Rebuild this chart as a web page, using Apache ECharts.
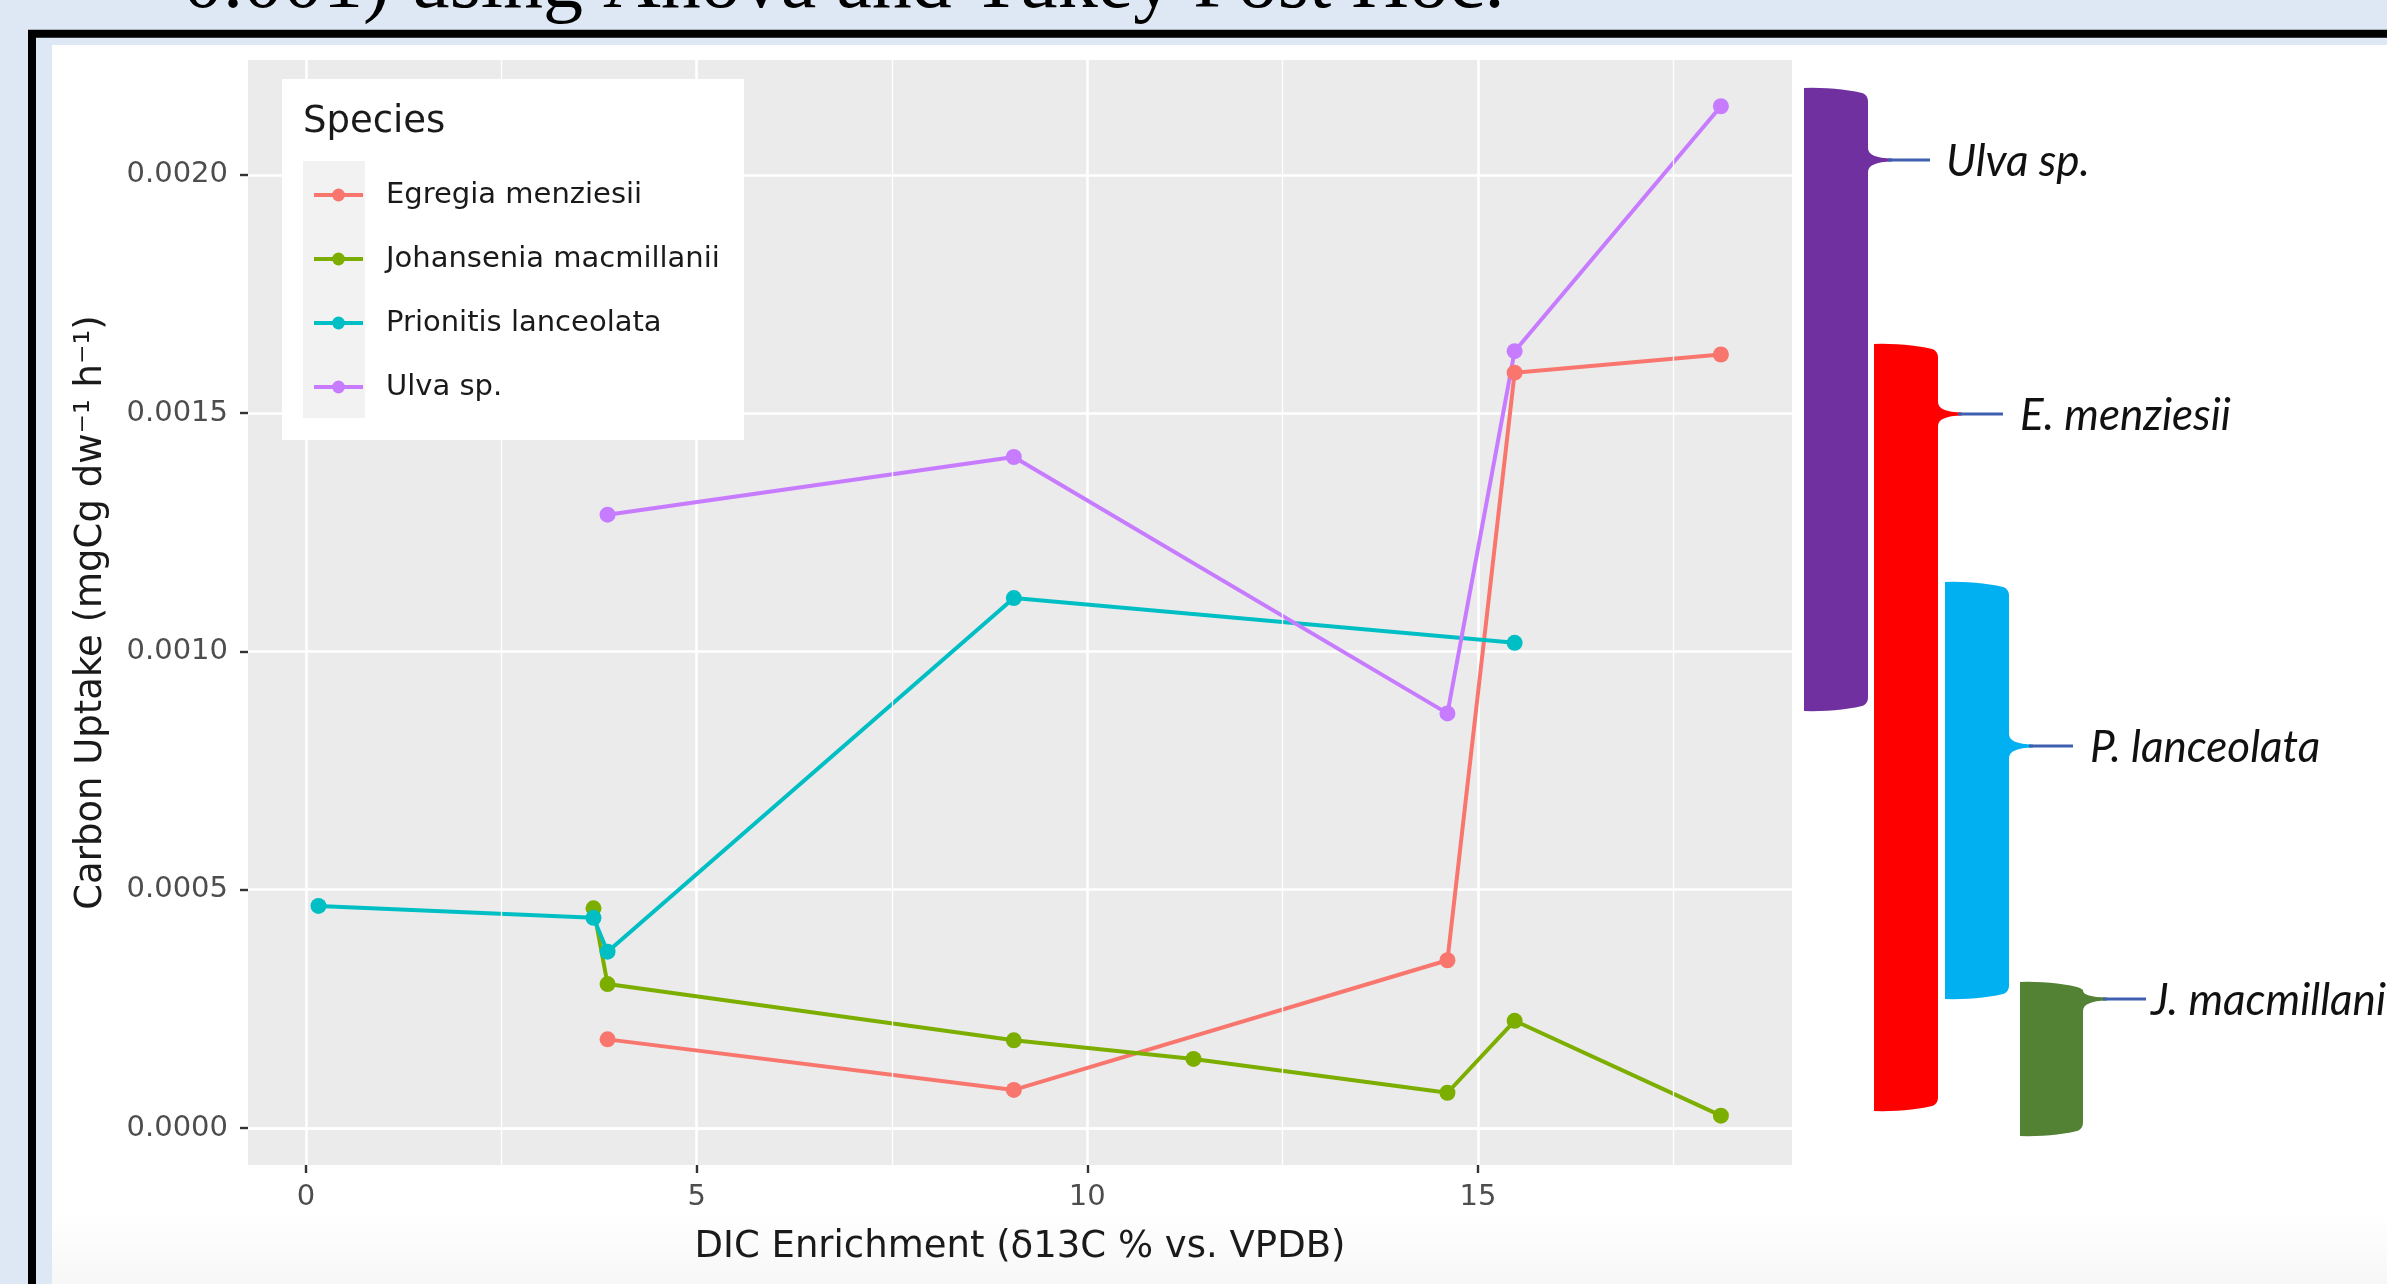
<!DOCTYPE html>
<html lang="en" style="height: 100%">
<head>
	<meta charset="utf-8">
	<title>Carbon uptake vs DIC enrichment</title>
</head>
<body style="height: 100%; margin: 0; background: #dde8f4">
<div id="container" style="width: 2387px; height: 1284px"></div>

<script src="https://cdn.jsdelivr.net/npm/echarts@6/dist/echarts.min.js"></script>
<script type="text/javascript">
	// values (x = DIC enrichment, y = carbon uptake)
	var egregiaX = [3.86, 9.06, 14.61, 15.47, 18.11];
	var egregiaY = [0.000186, 0.000080, 0.000352, 0.001585, 0.001623];
	var johanseniaX = [3.68, 3.86, 9.06, 11.36, 14.61, 15.47, 18.11];
	var johanseniaY = [0.000461, 0.000302, 0.000184, 0.000145, 0.000074, 0.000225, 0.000026];
	var prionitisX = [0.16, 3.68, 3.86, 9.06, 15.47];
	var prionitisY = [0.000466, 0.000441, 0.000370, 0.001112, 0.001018];
	var ulvaX = [3.86, 9.06, 14.61, 15.47, 18.11];
	var ulvaY = [0.001287, 0.001408, 0.000870, 0.001630, 0.002144];

	var speciesNames = ['Egregia menziesii', 'Johansenia macmillanii', 'Prionitis lanceolata', 'Ulva sp.'];
	var speciesColors = ['#F8766D', '#7CAE00', '#00BFC4', '#C77CFF'];

	var xTicks = [0, 5, 10, 15];
	var yTicks = [0, 0.0005, 0.001, 0.0015, 0.002];
	var xMinor = [2.5, 7.5, 12.5, 17.5];
	var yMinor = [0.00025, 0.00075, 0.00125, 0.00175];

	var groupLabels = ['Ulva sp.', 'E. menziesii', 'P. lanceolata', 'J. macmillanii'];
	var groupColors = ['#7030A0', '#FF0000', '#00B0F0', '#548235'];

	// layout of the hand-drawn brackets on the right (pixels)
	var brLeft = [1804, 1874, 1945, 2020];
	var brRight = [1868, 1938, 2009, 2083];
	var brTop = [88, 344, 582, 982];
	var brBottom = [711, 1111, 999, 1136];
	var brMid = [160, 414, 746, 999];
	var brLineEnd = [1930, 2003, 2073, 2146];
	var brLabelX = [1946, 2020, 2090, 2151];

	var font = '"DejaVu Sans", sans-serif';

	function pairs(xs, ys) {
		return xs.map(function (x, i) { return [x, ys[i]]; });
	}

	// quadratic curve sampled into polygon points
	function quad(pts, p0, c, p1) {
		for (var k = 1; k <= 8; k++) {
			var t = k / 8, u = 1 - t;
			pts.push([u * u * p0[0] + 2 * u * t * c[0] + t * t * p1[0],
				u * u * p0[1] + 2 * u * t * c[1] + t * t * p1[1]]);
		}
	}

	function bracketPoints(i) {
		var x0 = brLeft[i], x1 = brRight[i], yT = brTop[i], yB = brBottom[i], ym = brMid[i];
		var w = x1 - x0;
		var ct = Math.min(14, (ym - yT) / 2);
		var f = Math.min(12, ym - yT - ct);
		var pts = [[x0, yT]];
		quad(pts, [x0, yT], [x0 + w * 0.5, yT - 1], [x1 - 6, yT + Math.min(5, ct)]);
		quad(pts, [x1 - 6, yT + Math.min(5, ct)], [x1, yT + Math.min(7, ct)], [x1, yT + ct]);
		pts.push([x1, ym - f]);
		quad(pts, [x1, ym - f], [x1, ym - 2], [x1 + 24, ym - 1.5]);
		pts.push([x1 + 24, ym + 1.5]);
		quad(pts, [x1 + 24, ym + 1.5], [x1, ym + 2], [x1, ym + 12]);
		pts.push([x1, yB - 14]);
		quad(pts, [x1, yB - 14], [x1, yB - 7], [x1 - 6, yB - 5]);
		quad(pts, [x1 - 6, yB - 5], [x0 + w * 0.5, yB + 1], [x0, yB]);
		return pts;
	}

	var graphics = [
		{
			type: 'text', x: 183, y: -14, z: -5,
			style: { text: '0.001) using Anova and Tukey Post Hoc.', font: '80px "Liberation Serif"', fill: '#000',
				textVerticalAlign: 'middle' }
		},
		{
			type: 'text', x: 2358, y: -21, z: -5,
			style: { text: '1', font: '80px "Liberation Serif"', fill: '#000', textVerticalAlign: 'middle' }
		},
		{
			type: 'rect', z: -4, silent: true,
			shape: { x: 32, y: 33.7, width: 3000, height: 3000 },
			style: { fill: 'none', stroke: '#000', lineWidth: 8 }
		},
		{
			type: 'rect', z: -3, silent: true,
			shape: { x: 52, y: 45, width: 2400, height: 1300 },
			style: {
				fill: new echarts.graphic.LinearGradient(0, 0, 0, 1, [
					{ offset: 0, color: '#ffffff' },
					{ offset: 0.9, color: '#ffffff' },
					{ offset: 1, color: '#f0f0f0' }
				])
			}
		},
		// legend box, key background and title
		{
			type: 'rect', z: 3, silent: true,
			shape: { x: 282, y: 79, width: 462, height: 361 },
			style: { fill: '#ffffff' }
		},
		{
			type: 'rect', z: 4, silent: true,
			shape: { x: 303, y: 161, width: 62, height: 257 },
			style: { fill: '#f2f2f2' }
		},
		{
			type: 'text', x: 303, y: 122, z: 5,
			style: { text: 'Species', font: '37px ' + font, fill: '#1a1a1a', textVerticalAlign: 'middle' }
		}
	];

	groupLabels.forEach(function (label, i) {
		graphics.push({
			type: 'polygon', z: 2, silent: true,
			shape: { points: bracketPoints(i) },
			style: { fill: groupColors[i] }
		});
		graphics.push({
			type: 'line', z: 2, silent: true,
			shape: { x1: brRight[i] + 20, y1: brMid[i], x2: brLineEnd[i], y2: brMid[i] },
			style: { stroke: '#3f5fb0', lineWidth: 3 }
		});
		graphics.push({
			type: 'text', x: brLabelX[i], y: brMid[i] + 2, z: 2,
			style: { text: label, font: 'italic 44px Lato', fill: '#111', textVerticalAlign: 'middle' }
		});
	});

	var seriesData = [
		pairs(egregiaX, egregiaY),
		pairs(johanseniaX, johanseniaY),
		pairs(prionitisX, prionitisY),
		pairs(ulvaX, ulvaY)
	];

	var series = [{
		// minor grid lines of the panel
		name: 'minor', type: 'line', data: [], z: 1, silent: true,
		markLine: {
			silent: true, symbol: ['none', 'none'], animation: false,
			label: { show: false },
			lineStyle: { color: '#ffffff', width: 1.3, type: 'solid' },
			emphasis: { disabled: true },
			data: xMinor.map(function (v) { return { xAxis: v }; })
				.concat(yMinor.map(function (v) { return { yAxis: v }; }))
		}
	}];

	speciesNames.forEach(function (name, i) {
		series.push({
			name: name, type: 'line', data: seriesData[i], z: 2,
			symbol: 'circle', symbolSize: 16, showSymbol: true,
			itemStyle: { color: speciesColors[i] },
			lineStyle: { color: speciesColors[i], width: 4 },
			emphasis: { disabled: true }
		});
	});

	var myChart = echarts.init(document.getElementById('container'), null, { renderer: 'canvas' });

	var option = {
		animation: false,
		backgroundColor: '#dde8f4',
		grid: {
			left: 248, top: 60, width: 1544, height: 1105,
			show: true, backgroundColor: '#ebebeb', borderWidth: 0,
			containLabel: false, outerBoundsMode: 'none'
		},
		legend: {
			data: speciesNames, orient: 'vertical', left: 312, top: 180, padding: 0,
			itemWidth: 49, itemHeight: 16, itemGap: 34, selectedMode: false, z: 6,
			lineStyle: { width: 4 },
			textStyle: { fontFamily: font, fontSize: 29, color: '#1a1a1a', lineHeight: 30, padding: [0, 0, 0, 18] }
		},
		xAxis: {
			type: 'value', min: -0.742, max: 19.02,
			name: 'DIC Enrichment (δ13C % vs. VPDB)', nameLocation: 'middle', nameGap: 64,
			nameTextStyle: { fontFamily: font, fontSize: 37, color: '#1a1a1a' },
			axisLine: { show: false, onZero: false },
			axisTick: { show: true, length: 8, customValues: xTicks, lineStyle: { color: '#333', width: 2.4 } },
			axisLabel: { customValues: xTicks, margin: 18, fontFamily: font, fontSize: 29, color: '#4d4d4d' },
			splitLine: { show: true, lineStyle: { color: '#ffffff', width: 2.6 } }
		},
		yAxis: {
			type: 'value', min: -0.0000776, max: 0.002241,
			name: 'Carbon Uptake (mgCg dw\u207B\u00B9 h\u207B\u00B9)', nameLocation: 'middle', nameRotate: 90, nameGap: 138,
			nameTextStyle: { fontFamily: font, fontSize: 37, color: '#1a1a1a' },
			axisLine: { show: false, onZero: false },
			axisTick: { show: true, length: 8, customValues: yTicks, lineStyle: { color: '#333', width: 2.4 } },
			axisLabel: {
				customValues: yTicks, margin: 20, fontFamily: font, fontSize: 29, color: '#4d4d4d',
				formatter: function (v) { return v.toFixed(4); }
			},
			splitLine: { show: true, lineStyle: { color: '#ffffff', width: 2.6 } }
		},
		graphic: { elements: graphics },
		series: series
	};

	myChart.setOption(option);
	window.addEventListener('resize', myChart.resize);
</script>
</body>
</html>
